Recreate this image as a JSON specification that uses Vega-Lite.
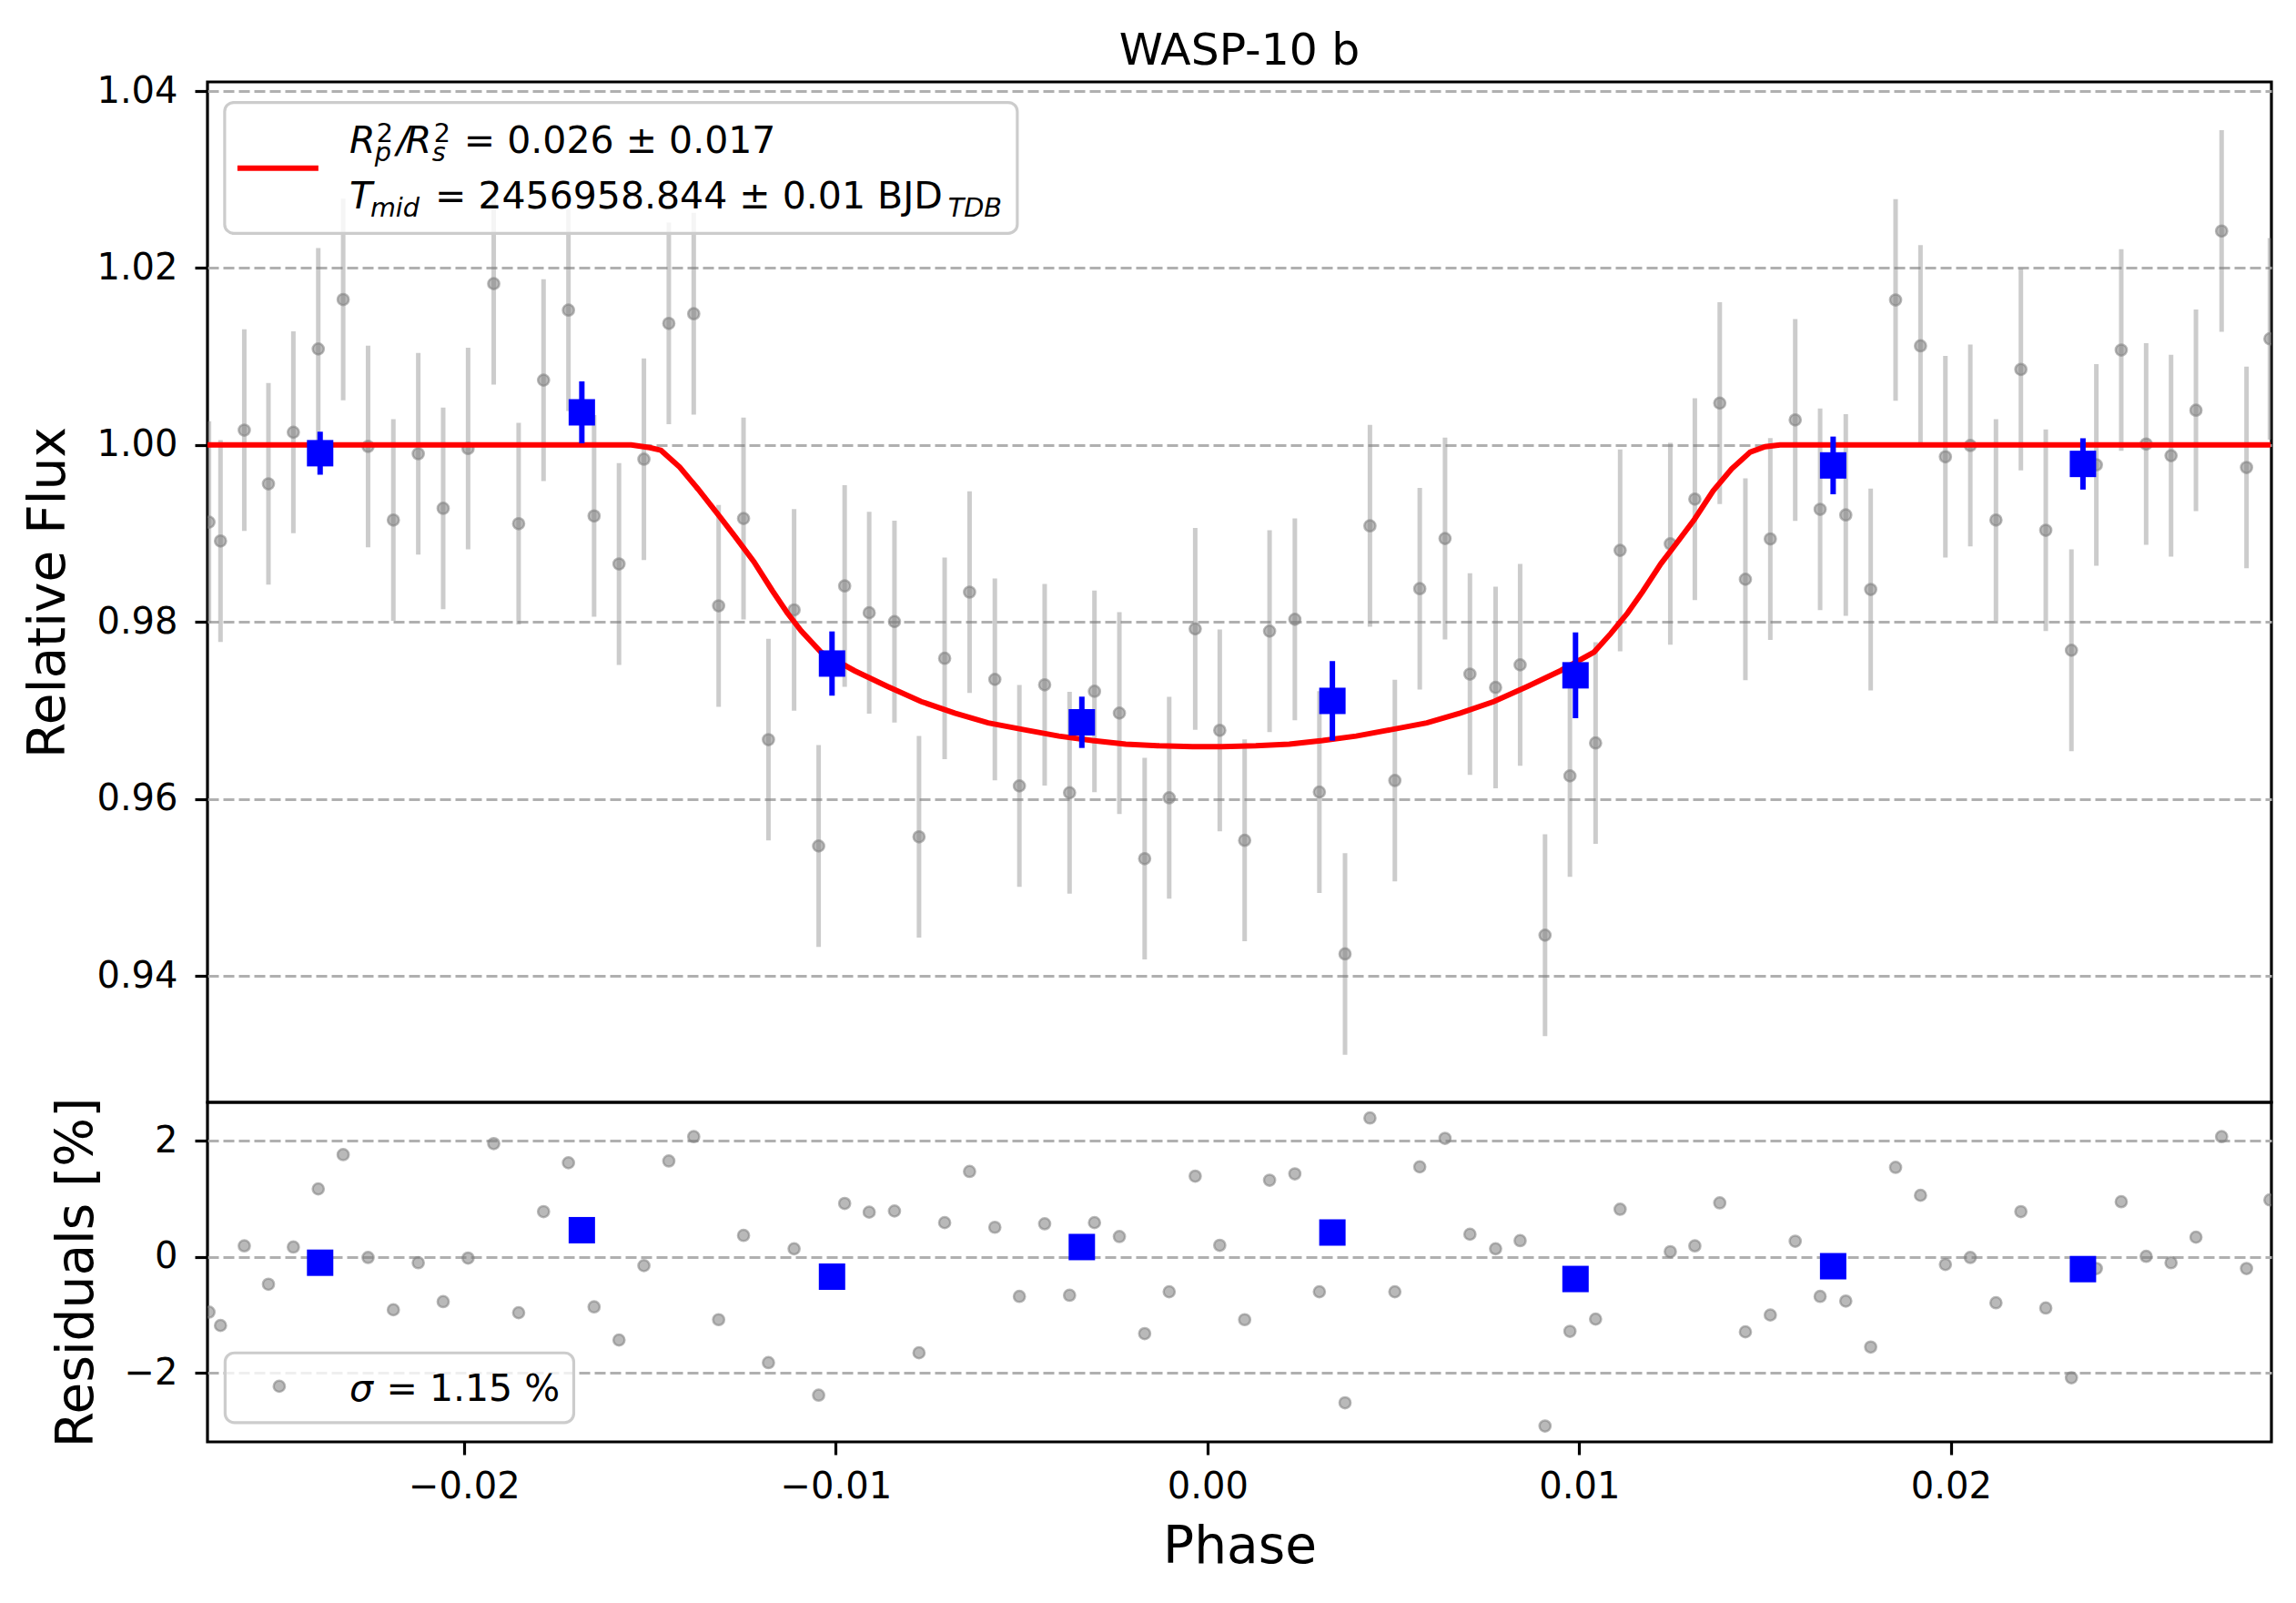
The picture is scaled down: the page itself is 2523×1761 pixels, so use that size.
{
  "$schema": "https://vega.github.io/schema/vega-lite/v6.json",
  "background": "white",
  "autosize": {"type": "pad"},
  "padding": {"left": 24, "top": 30, "right": 0, "bottom": 0},
  "spacing": 0,
  "bounds": "flush",
  "config": {
    "font": "DejaVu Sans",
    "view": {"stroke": "black", "strokeWidth": 3.2},
    "axis": {
      "labelFont": "DejaVu Sans", "labelFontSize": 40, "labelColor": "black",
      "tickColor": "black", "tickWidth": 3.2, "tickSize": 14, "domain": false,
      "titleFont": "DejaVu Sans", "titleFontSize": 56.6, "titleFontWeight": "normal", "titleColor": "black"
    },
    "axisY": {"grid": true, "gridColor": "#b0b0b0", "gridWidth": 3.2, "gridDash": [12, 5], "labelPadding": 19, "titlePadding": 23},
    "axisX": {"grid": false, "labelPadding": 15, "titlePadding": 18}
  },
  "datasets": {
    "obs": [
      {"phase": -0.02686, "flux": 0.99128, "err": 0.0114, "resid": -0.95},
      {"phase": -0.02655, "flux": 0.98915, "err": 0.0114, "resid": -1.18},
      {"phase": -0.02591, "flux": 1.00168, "err": 0.0114, "resid": 0.19},
      {"phase": -0.02526, "flux": 0.99561, "err": 0.0114, "resid": -0.47},
      {"phase": -0.02459, "flux": 1.00144, "err": 0.0114, "resid": 0.17},
      {"phase": -0.02392, "flux": 1.01085, "err": 0.0114, "resid": 1.17},
      {"phase": -0.02325, "flux": 1.01644, "err": 0.0114, "resid": 1.76},
      {"phase": -0.02258, "flux": 0.99983, "err": 0.0114, "resid": -0.01},
      {"phase": -0.0219, "flux": 0.99152, "err": 0.0114, "resid": -0.91},
      {"phase": -0.02123, "flux": 0.99901, "err": 0.0114, "resid": -0.1},
      {"phase": -0.02056, "flux": 0.99284, "err": 0.0114, "resid": -0.77},
      {"phase": -0.01989, "flux": 0.9996, "err": 0.0114, "resid": -0.02},
      {"phase": -0.0192, "flux": 1.01823, "err": 0.0114, "resid": 1.95},
      {"phase": -0.01853, "flux": 0.99111, "err": 0.0114, "resid": -0.96},
      {"phase": -0.01786, "flux": 1.00733, "err": 0.0114, "resid": 0.78},
      {"phase": -0.01719, "flux": 1.01524, "err": 0.0114, "resid": 1.62},
      {"phase": -0.0165, "flux": 0.99198, "err": 0.0114, "resid": -0.86},
      {"phase": -0.01583, "flux": 0.98655, "err": 0.0114, "resid": -1.43},
      {"phase": -0.01516, "flux": 0.99839, "err": 0.0114, "resid": -0.15},
      {"phase": -0.01449, "flux": 1.01374, "err": 0.0114, "resid": 1.65},
      {"phase": -0.01382, "flux": 1.01483, "err": 0.0114, "resid": 2.07},
      {"phase": -0.01315, "flux": 0.98182, "err": 0.0114, "resid": -1.08},
      {"phase": -0.01248, "flux": 0.99169, "err": 0.0114, "resid": 0.37},
      {"phase": -0.01181, "flux": 0.9667, "err": 0.0114, "resid": -1.82},
      {"phase": -0.01112, "flux": 0.98136, "err": 0.0114, "resid": 0.14},
      {"phase": -0.01046, "flux": 0.95468, "err": 0.0114, "resid": -2.38},
      {"phase": -0.00976, "flux": 0.98407, "err": 0.0114, "resid": 0.92},
      {"phase": -0.0091, "flux": 0.98104, "err": 0.0114, "resid": 0.77},
      {"phase": -0.00842, "flux": 0.98004, "err": 0.0114, "resid": 0.79},
      {"phase": -0.00776, "flux": 0.95572, "err": 0.0114, "resid": -1.65},
      {"phase": -0.00707, "flux": 0.97589, "err": 0.0114, "resid": 0.59},
      {"phase": -0.0064, "flux": 0.98337, "err": 0.0114, "resid": 1.47},
      {"phase": -0.00572, "flux": 0.97351, "err": 0.0114, "resid": 0.51},
      {"phase": -0.00506, "flux": 0.96147, "err": 0.0114, "resid": -0.68},
      {"phase": -0.00438, "flux": 0.9729, "err": 0.0114, "resid": 0.57},
      {"phase": -0.00371, "flux": 0.9607, "err": 0.0114, "resid": -0.66},
      {"phase": -0.00304, "flux": 0.97216, "err": 0.0114, "resid": 0.59},
      {"phase": -0.00237, "flux": 0.9697, "err": 0.0114, "resid": 0.35},
      {"phase": -0.00169, "flux": 0.95325, "err": 0.0114, "resid": -1.32},
      {"phase": -0.00103, "flux": 0.96013, "err": 0.0114, "resid": -0.6},
      {"phase": -0.00033, "flux": 0.97922, "err": 0.0114, "resid": 1.39},
      {"phase": 0.00033, "flux": 0.96775, "err": 0.0114, "resid": 0.2},
      {"phase": 0.001, "flux": 0.95532, "err": 0.0114, "resid": -1.08},
      {"phase": 0.00167, "flux": 0.97896, "err": 0.0114, "resid": 1.32},
      {"phase": 0.00235, "flux": 0.9803, "err": 0.0114, "resid": 1.43},
      {"phase": 0.00301, "flux": 0.96078, "err": 0.0114, "resid": -0.6},
      {"phase": 0.0037, "flux": 0.94248, "err": 0.0114, "resid": -2.51},
      {"phase": 0.00437, "flux": 0.99086, "err": 0.0114, "resid": 2.39},
      {"phase": 0.00504, "flux": 0.96208, "err": 0.0114, "resid": -0.6},
      {"phase": 0.00571, "flux": 0.98376, "err": 0.0114, "resid": 1.55},
      {"phase": 0.00639, "flux": 0.98943, "err": 0.0114, "resid": 2.04},
      {"phase": 0.00706, "flux": 0.97411, "err": 0.0114, "resid": 0.39},
      {"phase": 0.00775, "flux": 0.9726, "err": 0.0114, "resid": 0.14},
      {"phase": 0.00841, "flux": 0.97515, "err": 0.0114, "resid": 0.28},
      {"phase": 0.00908, "flux": 0.9446, "err": 0.0114, "resid": -2.91},
      {"phase": 0.00975, "flux": 0.9626, "err": 0.0114, "resid": -1.28},
      {"phase": 0.01044, "flux": 0.96632, "err": 0.0114, "resid": -1.07},
      {"phase": 0.0111, "flux": 0.98809, "err": 0.0114, "resid": 0.82},
      {"phase": 0.01245, "flux": 0.98883, "err": 0.0114, "resid": 0.09},
      {"phase": 0.01311, "flux": 0.99388, "err": 0.0114, "resid": 0.19},
      {"phase": 0.01378, "flux": 1.00473, "err": 0.0114, "resid": 0.93},
      {"phase": 0.01447, "flux": 0.98482, "err": 0.0114, "resid": -1.29},
      {"phase": 0.01514, "flux": 0.98938, "err": 0.0114, "resid": -1.0},
      {"phase": 0.01581, "flux": 1.00283, "err": 0.0114, "resid": 0.27},
      {"phase": 0.01648, "flux": 0.99273, "err": 0.0114, "resid": -0.68},
      {"phase": 0.01717, "flux": 0.99209, "err": 0.0114, "resid": -0.76},
      {"phase": 0.01784, "flux": 0.98367, "err": 0.0114, "resid": -1.55},
      {"phase": 0.01851, "flux": 1.01639, "err": 0.0114, "resid": 1.54},
      {"phase": 0.01918, "flux": 1.0112, "err": 0.0114, "resid": 1.06},
      {"phase": 0.01985, "flux": 0.99867, "err": 0.0114, "resid": -0.13},
      {"phase": 0.02052, "flux": 0.99994, "err": 0.0114, "resid": -0.01},
      {"phase": 0.02121, "flux": 0.99152, "err": 0.0114, "resid": -0.79},
      {"phase": 0.02188, "flux": 1.00854, "err": 0.0114, "resid": 0.78},
      {"phase": 0.02255, "flux": 0.99036, "err": 0.0114, "resid": -0.88},
      {"phase": 0.02324, "flux": 0.9768, "err": 0.0114, "resid": -2.08},
      {"phase": 0.02391, "flux": 0.99775, "err": 0.0114, "resid": -0.2},
      {"phase": 0.02458, "flux": 1.01073, "err": 0.0114, "resid": 0.95},
      {"phase": 0.02525, "flux": 1.00011, "err": 0.0114, "resid": 0.01},
      {"phase": 0.02592, "flux": 0.99879, "err": 0.0114, "resid": -0.1},
      {"phase": 0.02659, "flux": 1.00392, "err": 0.0114, "resid": 0.34},
      {"phase": 0.02728, "flux": 1.02418, "err": 0.0114, "resid": 2.07},
      {"phase": 0.02795, "flux": 0.99746, "err": 0.0114, "resid": -0.2},
      {"phase": 0.02858, "flux": 1.012, "err": 0.0114, "resid": 0.98}
    ],
    "bins": [
      {"phase": -0.02387, "flux": 0.99907, "err": 0.00243, "resid": -0.1},
      {"phase": -0.01683, "flux": 1.00369, "err": 0.0035, "resid": 0.46},
      {"phase": -0.0101, "flux": 0.9753, "err": 0.00363, "resid": -0.34},
      {"phase": -0.00338, "flux": 0.96866, "err": 0.0029, "resid": 0.17},
      {"phase": 0.00336, "flux": 0.97108, "err": 0.0045, "resid": 0.42},
      {"phase": 0.0099, "flux": 0.97397, "err": 0.00485, "resid": -0.38},
      {"phase": 0.01683, "flux": 0.99769, "err": 0.00326, "resid": -0.16},
      {"phase": 0.02355, "flux": 0.99786, "err": 0.0029, "resid": -0.21}
    ],
    "model": [
      {"phase": -0.0269, "flux": 1.0},
      {"phase": -0.0155, "flux": 1.0},
      {"phase": -0.015, "flux": 0.9997},
      {"phase": -0.0147, "flux": 0.9994},
      {"phase": -0.0142, "flux": 0.9975},
      {"phase": -0.0137, "flux": 0.995},
      {"phase": -0.0131, "flux": 0.9918},
      {"phase": -0.0127, "flux": 0.9896},
      {"phase": -0.0122, "flux": 0.9868},
      {"phase": -0.0117, "flux": 0.9835},
      {"phase": -0.0113, "flux": 0.981},
      {"phase": -0.01093, "flux": 0.979},
      {"phase": -0.0104, "flux": 0.9766},
      {"phase": -0.0095, "flux": 0.9745},
      {"phase": -0.0086, "flux": 0.9727},
      {"phase": -0.0077, "flux": 0.971},
      {"phase": -0.0068, "flux": 0.9697},
      {"phase": -0.0059, "flux": 0.9686},
      {"phase": -0.0049, "flux": 0.9678},
      {"phase": -0.004, "flux": 0.9671},
      {"phase": -0.0031, "flux": 0.9666},
      {"phase": -0.0022, "flux": 0.9662},
      {"phase": -0.0013, "flux": 0.966},
      {"phase": -0.0004, "flux": 0.9659},
      {"phase": 0.0004, "flux": 0.9659},
      {"phase": 0.0013, "flux": 0.966},
      {"phase": 0.0022, "flux": 0.9662},
      {"phase": 0.0031, "flux": 0.9666},
      {"phase": 0.004, "flux": 0.9671},
      {"phase": 0.0049, "flux": 0.9678},
      {"phase": 0.0059, "flux": 0.9686},
      {"phase": 0.0068, "flux": 0.9697},
      {"phase": 0.0077, "flux": 0.971},
      {"phase": 0.0086, "flux": 0.9727},
      {"phase": 0.0095, "flux": 0.9745},
      {"phase": 0.0104, "flux": 0.9766},
      {"phase": 0.01085, "flux": 0.9787},
      {"phase": 0.0113, "flux": 0.981},
      {"phase": 0.0117, "flux": 0.9834},
      {"phase": 0.0122, "flux": 0.9866},
      {"phase": 0.0126, "flux": 0.9888},
      {"phase": 0.0131, "flux": 0.9916},
      {"phase": 0.0136, "flux": 0.9948},
      {"phase": 0.0141, "flux": 0.9973},
      {"phase": 0.0146, "flux": 0.9992},
      {"phase": 0.015, "flux": 0.9998},
      {"phase": 0.0154, "flux": 1.0},
      {"phase": 0.0286, "flux": 1.0}
    ]
  },
  "vconcat": [
    {
      "width": 2268,
      "height": 1121,
      "title": {"text": "WASP-10 b", "fontSize": 48.8, "fontWeight": "normal", "font": "DejaVu Sans", "color": "black", "frame": "group", "anchor": "middle", "baseline": "alphabetic", "offset": -40},
      "layer": [
        {
          "data": {"name": "obs"},
          "mark": {"type": "errorbar", "ticks": false, "color": "#808080", "opacity": 0.4, "thickness": 5, "clip": true},
          "encoding": {
            "x": {"field": "phase", "type": "quantitative", "scale": {"domain": [-0.0269, 0.02862], "nice": false, "zero": false}, "axis": null},
            "y": {"field": "flux", "type": "quantitative", "scale": {"domain": [0.92571, 1.04103], "nice": false, "zero": false},
                  "axis": {"values": [0.94, 0.96, 0.98, 1.0, 1.02, 1.04], "format": ".2f"}, "title": "Relative Flux"},
            "yError": {"field": "err"}
          }
        },
        {
          "data": {"name": "obs"},
          "mark": {"type": "point", "shape": "circle", "filled": true, "size": 150, "fill": "#808080", "fillOpacity": 0.55, "stroke": "#808080", "strokeOpacity": 0.55, "strokeWidth": 2.5, "clip": true},
          "encoding": {
            "x": {"field": "phase", "type": "quantitative", "axis": null},
            "y": {"field": "flux", "type": "quantitative", "title": "Relative Flux"}
          }
        },
        {
          "data": {"name": "model"},
          "mark": {"type": "line", "color": "#ff0000", "strokeWidth": 6, "clip": true},
          "encoding": {
            "x": {"field": "phase", "type": "quantitative", "axis": null},
            "y": {"field": "flux", "type": "quantitative", "title": "Relative Flux"}
          }
        },
        {
          "data": {"name": "bins"},
          "mark": {"type": "errorbar", "ticks": false, "color": "#0000ff", "opacity": 1, "thickness": 6, "clip": true},
          "encoding": {
            "x": {"field": "phase", "type": "quantitative", "axis": null},
            "y": {"field": "flux", "type": "quantitative", "title": "Relative Flux"},
            "yError": {"field": "err"}
          }
        },
        {
          "data": {"name": "bins"},
          "mark": {"type": "point", "shape": "square", "filled": true, "size": 841, "color": "#0000ff", "opacity": 1, "clip": true},
          "encoding": {
            "x": {"field": "phase", "type": "quantitative", "axis": null},
            "y": {"field": "flux", "type": "quantitative", "title": "Relative Flux"}
          }
        },
        {
          "data": {"values": [{}]},
          "mark": {"type": "rect", "fill": "white", "fillOpacity": 0.8, "stroke": "#cccccc", "strokeWidth": 3.2, "cornerRadius": 10},
          "encoding": {
            "x": {"datum": -0.026438, "type": "quantitative", "axis": null},
            "x2": {"datum": -0.005116},
            "y": {"datum": 1.03871, "type": "quantitative", "title": "Relative Flux"},
            "y2": {"datum": 1.02391}
          }
        },
        {
          "data": {"values": [{}]},
          "mark": {"type": "rule", "color": "#ff0000", "strokeWidth": 6},
          "encoding": {
            "x": {"datum": -0.026095, "type": "quantitative", "axis": null},
            "x2": {"datum": -0.023917},
            "y": {"datum": 1.03128, "type": "quantitative", "title": "Relative Flux"}
          }
        },
        {
          "data": {"values": [{}]},
          "mark": {"type": "text", "font": "DejaVu Sans", "fontSize": 41, "fontStyle": "italic", "align": "left", "baseline": "alphabetic", "color": "black", "text": "R"},
          "encoding": {
            "x": {"datum": -0.023084, "type": "quantitative", "axis": null},
            "y": {"datum": 1.03301, "type": "quantitative", "title": "Relative Flux"}
          }
        },
        {
          "data": {"values": [{}]},
          "mark": {"type": "text", "font": "DejaVu Sans", "fontSize": 41, "fontStyle": "italic", "align": "left", "baseline": "alphabetic", "color": "black", "text": "/"},
          "encoding": {
            "x": {"datum": -0.02181, "type": "quantitative", "axis": null},
            "y": {"datum": 1.03301, "type": "quantitative", "title": "Relative Flux"}
          }
        },
        {
          "data": {"values": [{}]},
          "mark": {"type": "text", "font": "DejaVu Sans", "fontSize": 41, "fontStyle": "italic", "align": "left", "baseline": "alphabetic", "color": "black", "text": "R"},
          "encoding": {
            "x": {"datum": -0.02157, "type": "quantitative", "axis": null},
            "y": {"datum": 1.03301, "type": "quantitative", "title": "Relative Flux"}
          }
        },
        {
          "data": {"values": [{}]},
          "mark": {"type": "text", "font": "DejaVu Sans", "fontSize": 28.7, "align": "left", "baseline": "alphabetic", "color": "black", "text": "2"},
          "encoding": {
            "x": {"datum": -0.02235, "type": "quantitative", "axis": null},
            "y": {"datum": 1.0342, "type": "quantitative", "title": "Relative Flux"}
          }
        },
        {
          "data": {"values": [{}]},
          "mark": {"type": "text", "font": "DejaVu Sans", "fontSize": 28.7, "fontStyle": "italic", "align": "left", "baseline": "alphabetic", "color": "black", "text": "p"},
          "encoding": {
            "x": {"datum": -0.0224, "type": "quantitative", "axis": null},
            "y": {"datum": 1.0321, "type": "quantitative", "title": "Relative Flux"}
          }
        },
        {
          "data": {"values": [{}]},
          "mark": {"type": "text", "font": "DejaVu Sans", "fontSize": 28.7, "align": "left", "baseline": "alphabetic", "color": "black", "text": "2"},
          "encoding": {
            "x": {"datum": -0.02081, "type": "quantitative", "axis": null},
            "y": {"datum": 1.0342, "type": "quantitative", "title": "Relative Flux"}
          }
        },
        {
          "data": {"values": [{}]},
          "mark": {"type": "text", "font": "DejaVu Sans", "fontSize": 28.7, "fontStyle": "italic", "align": "left", "baseline": "alphabetic", "color": "black", "text": "s"},
          "encoding": {
            "x": {"datum": -0.02086, "type": "quantitative", "axis": null},
            "y": {"datum": 1.0321, "type": "quantitative", "title": "Relative Flux"}
          }
        },
        {
          "data": {"values": [{}]},
          "mark": {"type": "text", "font": "DejaVu Sans", "fontSize": 41, "align": "left", "baseline": "alphabetic", "color": "black", "text": "= 0.026 ± 0.017"},
          "encoding": {
            "x": {"datum": -0.02, "type": "quantitative", "axis": null},
            "y": {"datum": 1.03301, "type": "quantitative", "title": "Relative Flux"}
          }
        },
        {
          "data": {"values": [{}]},
          "mark": {"type": "text", "font": "DejaVu Sans", "fontSize": 41, "fontStyle": "italic", "align": "left", "baseline": "alphabetic", "color": "black", "text": "T"},
          "encoding": {
            "x": {"datum": -0.023084, "type": "quantitative", "axis": null},
            "y": {"datum": 1.02668, "type": "quantitative", "title": "Relative Flux"}
          }
        },
        {
          "data": {"values": [{}]},
          "mark": {"type": "text", "font": "DejaVu Sans", "fontSize": 28.7, "fontStyle": "italic", "align": "left", "baseline": "alphabetic", "color": "black", "text": "mid"},
          "encoding": {
            "x": {"datum": -0.02252, "type": "quantitative", "axis": null},
            "y": {"datum": 1.02576, "type": "quantitative", "title": "Relative Flux"}
          }
        },
        {
          "data": {"values": [{}]},
          "mark": {"type": "text", "font": "DejaVu Sans", "fontSize": 41, "align": "left", "baseline": "alphabetic", "color": "black", "text": "= 2456958.844 ± 0.01 BJD"},
          "encoding": {
            "x": {"datum": -0.02078, "type": "quantitative", "axis": null},
            "y": {"datum": 1.02668, "type": "quantitative", "title": "Relative Flux"}
          }
        },
        {
          "data": {"values": [{}]},
          "mark": {"type": "text", "font": "DejaVu Sans", "fontSize": 28.7, "fontStyle": "italic", "align": "left", "baseline": "alphabetic", "color": "black", "text": "TDB"},
          "encoding": {
            "x": {"datum": -0.00698, "type": "quantitative", "axis": null},
            "y": {"datum": 1.02576, "type": "quantitative", "title": "Relative Flux"}
          }
        }
      ]
    },
    {
      "width": 2268,
      "height": 373,
      "layer": [
        {
          "data": {"name": "obs"},
          "mark": {"type": "point", "shape": "circle", "filled": true, "size": 150, "fill": "#808080", "fillOpacity": 0.55, "stroke": "#808080", "strokeOpacity": 0.55, "strokeWidth": 2.5, "clip": true},
          "encoding": {
            "x": {"field": "phase", "type": "quantitative", "scale": {"domain": [-0.0269, 0.02862], "nice": false, "zero": false},
                  "axis": {"values": [-0.02, -0.01, 0, 0.01, 0.02], "format": ".2f"}, "title": "Phase"},
            "y": {"field": "resid", "type": "quantitative", "scale": {"domain": [-3.183, 2.66], "nice": false, "zero": false},
                  "axis": {"values": [-2, 0, 2], "format": "d"}, "title": "Residuals [%]"}
          }
        },
        {
          "data": {"name": "bins"},
          "mark": {"type": "point", "shape": "square", "filled": true, "size": 841, "color": "#0000ff", "opacity": 1, "clip": true},
          "encoding": {
            "x": {"field": "phase", "type": "quantitative", "title": "Phase"},
            "y": {"field": "resid", "type": "quantitative", "title": "Residuals [%]"}
          }
        },
        {
          "data": {"values": [{}]},
          "mark": {"type": "rect", "fill": "white", "fillOpacity": 0.8, "stroke": "#cccccc", "strokeWidth": 3.2, "cornerRadius": 10},
          "encoding": {
            "x": {"datum": -0.026426, "type": "quantitative", "title": "Phase"},
            "x2": {"datum": -0.017048},
            "y": {"datum": -1.652, "type": "quantitative", "title": "Residuals [%]"},
            "y2": {"datum": -2.852}
          }
        },
        {
          "data": {"values": [{}]},
          "mark": {"type": "point", "shape": "circle", "filled": true, "size": 150, "fill": "#808080", "fillOpacity": 0.55, "stroke": "#808080", "strokeOpacity": 0.55, "strokeWidth": 2.5},
          "encoding": {
            "x": {"datum": -0.024969, "type": "quantitative", "title": "Phase"},
            "y": {"datum": -2.226, "type": "quantitative", "title": "Residuals [%]"}
          }
        },
        {
          "data": {"values": [{}]},
          "mark": {"type": "text", "font": "DejaVu Sans", "fontSize": 41, "fontStyle": "italic", "align": "left", "baseline": "alphabetic", "color": "black", "text": "σ"},
          "encoding": {
            "x": {"datum": -0.023084, "type": "quantitative", "title": "Phase"},
            "y": {"datum": -2.475, "type": "quantitative", "title": "Residuals [%]"}
          }
        },
        {
          "data": {"values": [{}]},
          "mark": {"type": "text", "font": "DejaVu Sans", "fontSize": 41, "align": "left", "baseline": "alphabetic", "color": "black", "text": "= 1.15 %"},
          "encoding": {
            "x": {"datum": -0.02209, "type": "quantitative", "title": "Phase"},
            "y": {"datum": -2.475, "type": "quantitative", "title": "Residuals [%]"}
          }
        }
      ]
    }
  ]
}
